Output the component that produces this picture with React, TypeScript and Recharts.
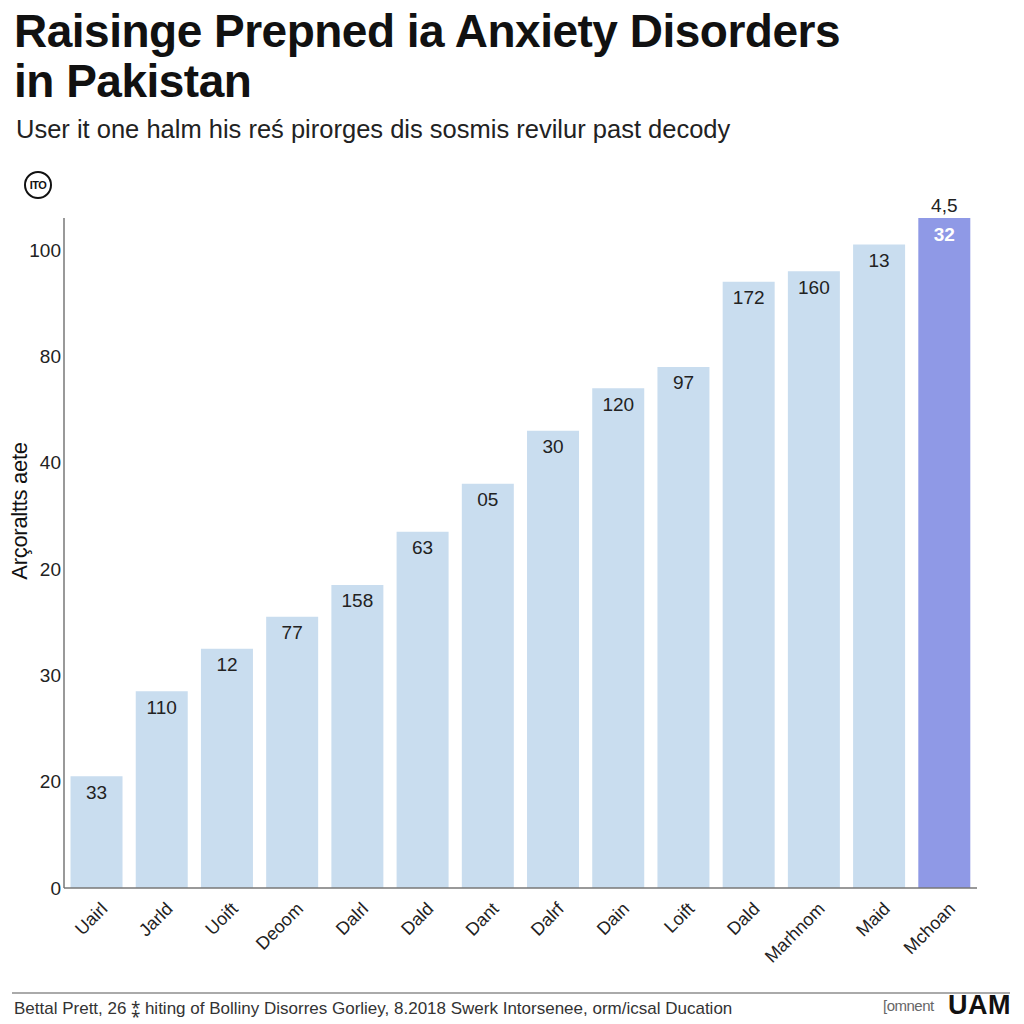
import { Bar, BarChart, Cell, LabelList, XAxis, YAxis } from "recharts";

const categories = ["Uairl", "Jarld", "Uoift", "Deoom", "Dalrl", "Dald", "Dant", "Dalrf", "Dain", "Loift", "Dald", "Marhnom", "Maid", "Mchoan"];
const values = [21, 37, 45, 51, 57, 67, 76, 86, 94, 98, 114, 116, 121, 126];
const barLabels = ["33", "110", "12", "77", "158", "63", "05", "30", "120", "97", "172", "160", "13", "32"];
const topLabels = ["", "", "", "", "", "", "", "", "", "", "", "", "", "4,5"];
const yTicks = [0, 20, 40, 60, 80, 100, 120];
const yTickLabels = ["0", "20", "30", "20", "40", "80", "100"];

const data = categories.map((name, i) => ({ name, value: values[i], label: barLabels[i], top: topLabels[i] }));

const BAR = "#C9DDEF";
const HIGHLIGHT = "#8F99E6";
const FONT = "'Liberation Sans', Arial, sans-serif";

function XTick({ x, y, payload }: any) {
  return (
    <text x={x + 12} y={y + 14} transform={`rotate(-45 ${x + 12} ${y + 14})`} textAnchor="end" fontSize={18} fill="#222" fontFamily={FONT}>
      {payload.value}
    </text>
  );
}

function InsideLabel({ x, y, width, index, value }: any) {
  const last = index === categories.length - 1;
  return (
    <text x={x + width / 2} y={y + 16} textAnchor="middle" dominantBaseline="central" fontSize={19} fontWeight={last ? 700 : 400} fill={last ? "#fff" : "#222"} fontFamily={FONT}>
      {value}
    </text>
  );
}

function TopLabel({ x, y, width, value }: any) {
  if (!value) return null;
  return (
    <text x={x + width / 2} y={y - 13} textAnchor="middle" dominantBaseline="central" fontSize={19} fill="#222" fontFamily={FONT}>
      {value}
    </text>
  );
}

export default function App() {
  return (
    <div style={{ position: "absolute", left: 0, top: 0, width: 1024, height: 1024, background: "#fff", overflow: "hidden" }}>
      <BarChart width={1024} height={1024} data={data} margin={{ top: 218, right: 47, bottom: 0, left: 0 }} barCategoryGap="10%">
        <XAxis dataKey="name" height={136} tick={<XTick />} tickLine={false} axisLine={{ stroke: "#777", strokeWidth: 1.5 }} interval={0} />
        <YAxis width={64} domain={[0, 126]} ticks={yTicks} tickFormatter={(v: number) => yTickLabels[yTicks.indexOf(v)]} tickLine={false} tickSize={0} tickMargin={3} axisLine={{ stroke: "#777", strokeWidth: 1.5 }} tick={{ fontSize: 19, fill: "#222", fontFamily: FONT }} />
        <Bar dataKey="value" isAnimationActive={false}>
          {data.map((d, i) => (
            <Cell key={i} fill={i === data.length - 1 ? HIGHLIGHT : BAR} />
          ))}
          <LabelList dataKey="label" content={<InsideLabel />} />
          <LabelList dataKey="top" content={<TopLabel />} />
        </Bar>
      </BarChart>

      <div style={{ position: "absolute", left: 14, top: 6, fontFamily: FONT, fontWeight: 700, fontSize: 46, lineHeight: "50px", color: "#111", letterSpacing: -0.5 }}>
        Raisinge Prepned ia Anxiety Disorders
        <br />
        in Pakistan
      </div>
      <div style={{ position: "absolute", left: 16, top: 115, fontFamily: FONT, fontSize: 25.5, color: "#222" }}>
        User it one halm his reś pirorges dis sosmis revilur past decody
      </div>
      <div style={{ position: "absolute", left: 24, top: 171, width: 28, height: 28, borderRadius: "50%", border: "2px solid #111", boxSizing: "border-box", display: "flex", alignItems: "center", justifyContent: "center", fontFamily: FONT, fontWeight: 700, fontSize: 11, color: "#111", letterSpacing: -0.5 }}>
        ITO
      </div>
      <div style={{ position: "absolute", left: 20, top: 511, transform: "translate(-50%, -50%) rotate(-90deg)", fontFamily: FONT, fontSize: 22, color: "#111", whiteSpace: "nowrap", letterSpacing: -0.3 }}>
        Arçoraltts aete
      </div>

      <div style={{ position: "absolute", left: 12, top: 992, width: 998, height: 2, background: "#aaa" }} />
      <div style={{ position: "absolute", left: 14, top: 996, fontFamily: FONT, fontSize: 17, color: "#333", whiteSpace: "nowrap" }}>
        Bettal Prett, 26 ⁑ hiting of Bolliny Disorres Gorliey, 8.2018 Swerk Intorsenee, orm/icsal Ducation
      </div>
      <div style={{ position: "absolute", left: 883, top: 997, fontFamily: FONT, fontSize: 15, color: "#666", whiteSpace: "nowrap", letterSpacing: -0.5 }}>
        [omnent
      </div>
      <div style={{ position: "absolute", left: 948, top: 990, fontFamily: FONT, fontWeight: 900, fontSize: 27, color: "#111", letterSpacing: 0.5 }}>
        UAM
      </div>
    </div>
  );
}
